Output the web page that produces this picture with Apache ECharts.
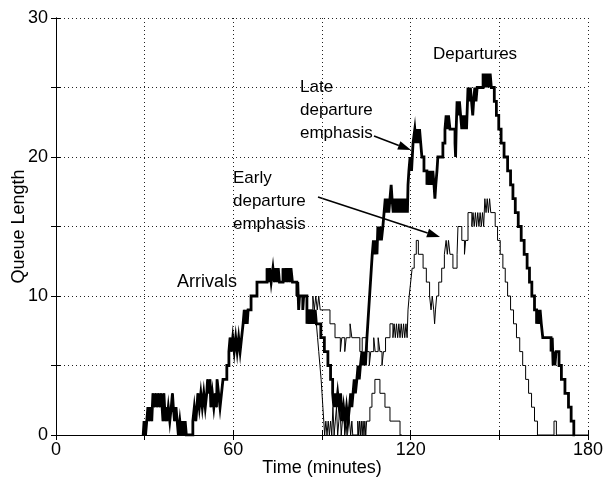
<!DOCTYPE html>
<html><head><meta charset="utf-8">
<script src="https://cdn.jsdelivr.net/npm/echarts@6/dist/echarts.min.js"></script>
<style>html,body{margin:0;padding:0;background:#fff}#c{width:604px;height:480px}</style>
</head><body><div id="c"></div>
<script>
// Tick labels
const xTickLabels = [0, 60, 120, 180];
const yTickLabels = [0, 10, 20, 30];

// Shared arrivals hump (time in minutes, queue length) - step changes
const hump = [
 [29.5,0],[29.8,1],[30.3,0],[30.7,1],[31.1,2],[31.6,1],[32.0,2],[32.4,1],[32.8,3],[33.3,2],[33.7,3],[34.2,2],[34.6,3],[35.1,2],[35.5,3],
 [35.9,2],[36.2,1],[36.5,3],[37.0,1],[37.3,2],[37.5,1],[38.0,2],[38.5,1],[39.0,2],[39.4,3],[39.7,2],[40.1,1],[40.6,2],[41.0,1],
 [41.4,0],[41.9,1],[42.4,0],[42.8,1],[43.3,0],[43.7,1],[44.1,0],
 [46.3,1],[46.8,2],[47.3,1],[47.7,2],[48.0,3],[48.5,2],[49.0,3],[49.5,2],[50.0,3],[50.5,2],[51.0,3],[51.3,4],[51.7,3],[52.1,4],
 [52.4,2],[52.9,3],[53.4,2],[53.9,3],[54.3,2],[54.5,4],[55.0,3],[55.5,2],[56.0,3],[56.5,4],[57.8,5],[58.5,6],
 [58.9,7],[59.3,6],[59.8,7],[60.3,6],[60.8,7],[61.3,6],[61.8,7],[62.3,6],[62.8,7],[63.3,8],[63.7,9],[64.0,8],[64.4,9],[64.7,8],
 [65.0,9],[66.0,10],[68.0,11],[71.4,12],[71.9,11],[72.3,12],[72.8,11],[73.4,12],[73.9,11],[74.3,12],[74.8,11],[75.2,12],[75.6,11],
 [76.8,12],[77.3,11],[77.7,12],[78.2,11],[78.6,12],[79.1,11],[79.5,12],[80.0,11],[81.5,10],[81.8,11],[82.1,9],[82.4,10],[83.5,9],[83.8,10]
];

// Late departure emphasis (thick) after the split
const lateRest = [
 [84.9,8],[85.3,9],[85.7,8],[86.1,9],[86.5,8],[86.9,9],[87.3,8],[87.7,9],[88.1,8],[89.6,7],[90.8,6],[92.0,5],[92.9,4],[93.6,3],
 [94.0,2],[94.4,3],[94.8,2],[95.3,3],[95.8,2],[96.3,3],[96.8,1],[97.3,2],[97.8,1],[98.3,2],[98.8,1],[99.3,2],[99.7,3],[100.1,2],
 [100.5,3],[100.9,4],[101.3,3],[101.8,4],[102.2,5],[102.6,4],[103.0,5],[103.5,6],[103.9,5],[104.3,6],[104.7,5],[105.2,7],[105.5,8],
 [105.8,9],[106.1,10],[106.4,11],[106.7,12],[107.0,13],[107.4,14],[107.8,13],[108.2,14],[108.6,13],[108.9,15],[109.3,14],[109.7,15],
 [110.1,14],[110.6,15],[111.0,16],[111.4,17],[111.8,16],[112.2,17],[112.6,16],[113.0,17],[113.4,18],[113.7,17],[114.1,16],[114.5,17],
 [114.9,16],[115.3,17],[115.7,16],[116.1,17],[116.5,16],[116.9,17],[117.3,16],[117.7,17],[118.1,16],[118.5,17],[118.9,16],[119.1,18],
 [119.4,19],[119.8,20],[120.3,19],[120.8,21],[121.4,22],[121.8,21],[122.2,22],[122.6,21],[123.0,22],[123.4,21],[123.8,20],[124.5,19],
 [125.5,18],[125.9,19],[126.3,18],[126.7,19],[127.1,18],[127.5,19],[127.9,18],[128.2,17],[128.5,18],[128.9,19],[129.2,20],[130.9,21],
 [131.6,22],[132.0,23],[132.4,22],[132.8,23],[133.3,22],[135.0,21],[135.2,20],[135.4,22],[135.7,24],[136.1,23],[136.5,24],[136.9,23],
 [137.3,22],[137.7,23],[138.1,22],[138.5,23],[138.9,22],[139.4,25],[139.8,24],[140.2,25],[140.6,24],[141.0,23],[141.3,24],[141.7,25],
 [142.1,24],[142.5,25],[144.5,26],[144.9,25],[145.3,26],[145.7,25],[146.1,26],[146.5,25],[146.9,26],[147.3,25],[148.3,24],[149.0,23],
 [149.8,22],[150.6,21],[151.6,20],[152.8,19],[153.8,18],[154.6,17],[155.4,16],[156.4,15],[157.4,14],[158.4,13],[159.4,12],[160.2,11],
 [161.0,10],[161.9,9],[162.6,8],[163.0,9],[163.4,8],[163.8,9],[164.2,8],[164.7,7],[167.5,6],[167.9,7],[168.2,5],[168.5,6],[168.8,5],
 [169.2,6],[170.2,5],[171.0,4],[172.2,3],[173.4,2],[174.3,1],[175.2,0],[175.6,0]
];

// Early departure emphasis (thin) after the split
const earlyRest = [
 [84.9,9],[86.9,10],[87.4,9],[87.9,10],[88.4,9],[88.9,10],[89.4,9],[92.7,8],[94.4,7],[96.2,6],[96.7,7],[97.7,6],[98.2,7],[99.5,8],
 [100.1,7],[102.8,6],[103.6,7],[105.2,6],[106.0,5],[106.5,6],[107.5,7],[108.0,6],[109.0,7],[109.6,6],[110.3,5],[110.8,6],[111.5,7],
 [113.0,8],[114.0,7],[114.4,8],[114.8,7],[115.2,8],[115.6,7],[116.0,8],[116.4,7],[116.8,8],[117.2,7],[117.6,8],[118.0,7],[118.4,8],
 [118.8,7],[119.1,9],[119.5,10],[120.0,11],[120.5,12],[121.2,13],[121.9,14],[122.6,13],[124.2,12],[125.3,11],[126.4,10],[126.9,9],
 [127.3,10],[127.8,9],[128.1,8],[128.4,9],[128.8,10],[129.5,11],[130.5,12],[131.4,13],[132.0,14],[132.4,13],[132.8,14],[133.3,13],
 [134.3,12],[135.7,13],[136.0,15],[137.3,14],[138.2,13],[138.6,14],[139.4,16],[140.7,15],[141.1,16],[141.5,15],[141.9,16],[142.3,15],
 [142.7,16],[143.1,15],[143.5,16],[143.9,15],[144.3,16],[144.7,15],[145.1,17],[145.5,16],[145.9,17],[146.3,16],[146.7,17],[147.1,16],
 [148.6,15],[149.4,14],[150.3,13],[151.2,12],[152.0,11],[152.8,10],[153.8,9],[154.8,8],[155.8,7],[156.9,6],[157.9,5],[158.9,4],
 [159.9,3],[160.9,2],[161.9,1],[162.9,0],[168.5,1],[169.3,0],[180,0]
];

// Thin arrivals tail (drops to zero after the split, small second bank)
const tailRest = [
 [88.1,8],[88.5,7],[88.9,6],[89.3,5],[89.7,4],[90.0,3],[90.3,2],[90.6,1],[90.9,0],[91.3,1],[91.7,0],[92.1,1],[92.5,0],[92.9,1],
 [93.3,0],[93.7,2],[94.1,0],[94.5,1],[94.9,2],[95.3,0],[95.7,1],[96.1,2],[96.5,0],[96.9,1],[97.3,2],[97.7,0],[98.1,1],[98.5,0],
 [98.9,2],[99.3,1],[99.7,0],[100.1,1],[100.4,0],[102.1,1],[102.4,0],[102.7,1],[103.0,0],[103.3,1],[103.6,0],[103.9,1],[104.2,0],
 [104.5,1],[104.8,0],[105.1,1],[106.2,2],[106.9,3],[107.9,4],[109.6,3],[111.3,2],[113.0,1],[116.4,0],[117.0,0]
];

const late = hump.concat(lateRest);
const early = hump.concat(earlyRest);

const chart = echarts.init(document.getElementById('c'), null, {renderer: 'canvas'});
const FONT = 'Liberation Sans';
const gridLine = {show: true, lineStyle: {color: '#222', width: 1, type: [1, 3]}};

function arrow(x1, y1, x2, y2) {
  const a = Math.atan2(y2 - y1, x2 - x1), L = 13, W = 4.5;
  const bx = x2 - L * Math.cos(a), by = y2 - L * Math.sin(a);
  return [
    {type: 'line', shape: {x1: x1, y1: y1, x2: bx, y2: by}, style: {stroke: '#000', lineWidth: 1.6}},
    {type: 'polygon', shape: {points: [[x2, y2], [bx + W * Math.sin(a), by - W * Math.cos(a)], [bx - W * Math.sin(a), by + W * Math.cos(a)]]}, style: {fill: '#000'}}
  ];
}
function label(text, x, y, size) {
  return {type: 'text', left: x, top: y, style: {text: text, font: (size || 17) + 'px "' + FONT + '"', fill: '#000', lineHeight: 23}};
}

chart.setOption({
  animation: false,
  backgroundColor: '#fff',
  grid: {left: 56, right: 16, top: 18, bottom: 45, containLabel: false, outerBoundsMode: 'none', show: false},
  xAxis: [{
    type: 'value', min: 0, max: 180, interval: 30, position: 'bottom',
    name: 'Time (minutes)', nameLocation: 'middle', nameGap: 24, nameMoveOverlap: false,
    nameTextStyle: {fontFamily: FONT, fontSize: 18, color: '#000'},
    axisLine: {show: true, lineStyle: {color: '#000', width: 1}},
    axisTick: {show: true, inside: true, length: 5, lineStyle: {color: '#000'}},
    axisLabel: {fontFamily: FONT, fontSize: 18, color: '#000', margin: 6,
      formatter: v => xTickLabels.indexOf(v) >= 0 ? String(v) : ''},
    splitLine: gridLine
  }, {
    type: 'value', min: 0, max: 180, interval: 30, position: 'top',
    axisLine: {show: true, lineStyle: {color: '#000', width: 1}},
    axisTick: {show: true, inside: true, length: 5, lineStyle: {color: '#000'}},
    axisLabel: {show: false}, splitLine: {show: false}
  }],
  yAxis: [{
    type: 'value', min: 0, max: 30, interval: 5, position: 'left',
    name: 'Queue Length', nameLocation: 'middle', nameGap: 28, nameRotate: 90, nameMoveOverlap: false,
    nameTextStyle: {fontFamily: FONT, fontSize: 18, color: '#000'},
    axisLine: {show: true, lineStyle: {color: '#000', width: 1}},
    axisTick: {show: true, inside: true, length: 5, lineStyle: {color: '#000'}},
    axisLabel: {fontFamily: FONT, fontSize: 18, color: '#000', margin: 8,
      formatter: v => yTickLabels.indexOf(v) >= 0 ? String(v) : ''},
    splitLine: gridLine
  }, {
    type: 'value', min: 0, max: 30, interval: 5, position: 'right',
    axisLine: {show: true, lineStyle: {color: '#000', width: 1}},
    axisTick: {show: true, inside: true, length: 5, lineStyle: {color: '#000'}},
    axisLabel: {show: false}, splitLine: {show: false}
  }],
  series: [
    {name: 'Arrivals tail', type: 'line', data: tailRest, step: 'end', symbol: 'none', silent: true, z: 2,
      lineStyle: {color: '#000', width: 1, join: 'miter'}},
    {name: 'Early departure emphasis', type: 'line', data: early, step: 'end', symbol: 'none', silent: true, z: 2,
      lineStyle: {color: '#000', width: 1, join: 'miter'}},
    {name: 'Late departure emphasis', type: 'line', data: late, step: 'end', symbol: 'none', silent: true, z: 3,
      lineStyle: {color: '#000', width: 2.8, join: 'miter'}}
  ],
  graphic: [
    label('Arrivals', 177, 271, 18),
    label('Departures', 433, 43, 17),
    label('Late\ndeparture\nemphasis', 300, 76, 17),
    label('Early\ndeparture\nemphasis', 233, 167, 17)
  ].concat(arrow(374, 136, 411, 150)).concat(arrow(318, 197, 440, 237))
});
</script>
</body></html>
